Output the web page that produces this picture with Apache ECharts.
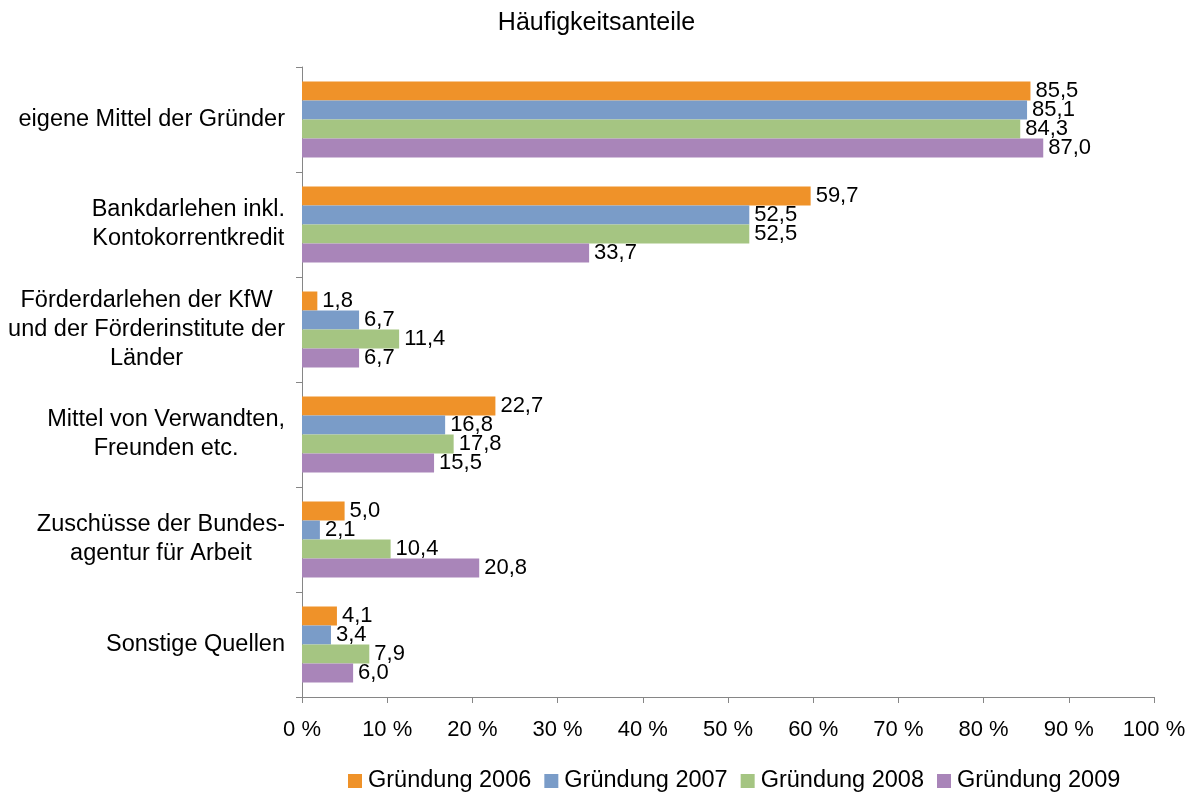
<!DOCTYPE html>
<html>
<head>
<meta charset="utf-8">
<script src="https://cdn.jsdelivr.net/npm/echarts@6/dist/echarts.min.js"></script>
<style>
  html, body { margin: 0; padding: 0; background: #fff; }
  #chart { width: 1193px; height: 792px; }
</style>
</head>
<body>
<div id="chart"></div>
<script>
// Kategorien (von oben nach unten)
var categories = [
  'eigene Mittel der Gründer',
  'Bankdarlehen inkl.\nKontokorrentkredit',
  'Förderdarlehen der KfW\nund der Förderinstitute der\nLänder',
  'Mittel von Verwandten,\nFreunden etc.',
  'Zuschüsse der Bundes-\nagentur für Arbeit',
  'Sonstige Quellen'
]
var seriesNames = ['Gründung 2006', 'Gründung 2007', 'Gründung 2008', 'Gründung 2009']
var values2006 = [85.5, 59.7, 1.8, 22.7, 5.0, 4.1]
var values2007 = [85.1, 52.5, 6.7, 16.8, 2.1, 3.4]
var values2008 = [84.3, 52.5, 11.4, 17.8, 10.4, 7.9]
var values2009 = [87.0, 33.7, 6.7, 15.5, 20.8, 6.0]
var colors = ['#EF9229', '#7A9CC8', '#A5C582', '#A985B9']

var font = 'Liberation Sans, Arial, sans-serif'

var chart = echarts.init(document.getElementById('chart'))

function makeSeries(name, data, i) {
  return {
    name: name,
    type: 'bar',
    data: data,
    barWidth: 19,
    barGap: '0%',
    itemStyle: { color: colors[i] },
    label: {
      show: true,
      position: 'right',
      distance: 5,
      color: '#000',
      fontFamily: font,
      fontSize: 22,
      formatter: function(p) {
        return p.value.toFixed(1).replace('.', ',')
      }
    }
  }
}

chart.setOption({
  backgroundColor: '#fff',
  animation: false,
  title: {
    text: 'Häufigkeitsanteile',
    left: 'center',
    top: 6,
    textStyle: { fontFamily: font, fontSize: 25, fontWeight: 'normal', color: '#000' }
  },
  legend: {
    data: seriesNames,
    left: 343,
    top: 764,
    itemWidth: 14,
    itemHeight: 14,
    itemGap: 13,
    icon: 'rect',
    textStyle: { fontFamily: font, fontSize: 23.5, color: '#000', padding: [0, 0, 0, 1] }
  },
  grid: {
    left: 302,
    right: 39,
    top: 67,
    bottom: 95,
    containLabel: false
  },
  xAxis: {
    type: 'value',
    min: 0,
    max: 100,
    interval: 10,
    splitLine: { show: false },
    axisLine: { show: true, lineStyle: { color: '#868686', width: 1 } },
    axisTick: { show: true, length: 6, lineStyle: { color: '#868686' } },
    axisLabel: {
      margin: 22,
      color: '#000',
      fontFamily: font,
      fontSize: 22,
      formatter: '{value} %'
    }
  },
  yAxis: {
    type: 'category',
    inverse: true,
    data: categories,
    axisLine: { show: true, lineStyle: { color: '#868686', width: 1 } },
    axisTick: { show: true, length: 6, lineStyle: { color: '#868686' } },
    axisLabel: {
      margin: 17,
      color: '#000',
      fontFamily: font,
      fontSize: 23.5,
      lineHeight: 29,
      align: 'right',
      formatter: function(v) {
        return v.split('\n').map(function(l) { return '{c|' + l + '}' }).join('\n')
      },
      rich: {
        c: { align: 'center', fontFamily: font, fontSize: 23.5, lineHeight: 29, color: '#000' }
      }
    }
  },
  series: [
    makeSeries(seriesNames[0], values2006, 0),
    makeSeries(seriesNames[1], values2007, 1),
    makeSeries(seriesNames[2], values2008, 2),
    makeSeries(seriesNames[3], values2009, 3)
  ]
})
</script>
</body>
</html>
